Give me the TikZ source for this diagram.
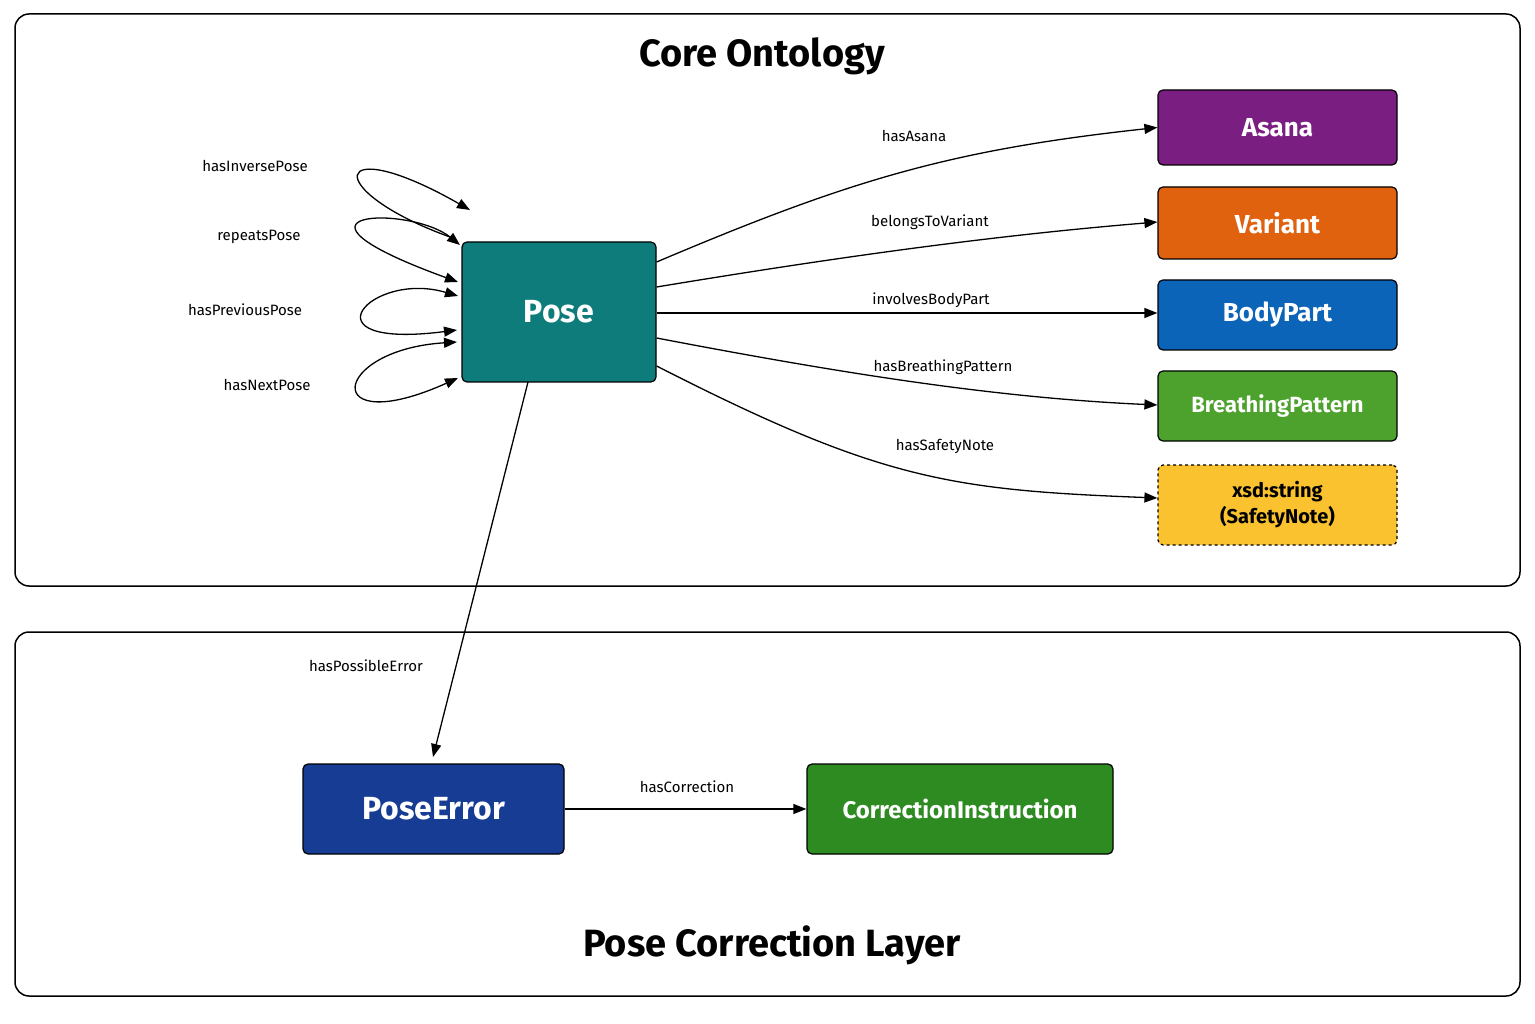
\documentclass[tikz,border=0pt]{standalone}
\usepackage{fontspec}
\setmainfont{Fira Sans}
\usetikzlibrary{arrows.meta}
\definecolor{cteal}{HTML}{0E7C7B}
\definecolor{cpurple}{HTML}{7B1E82}
\definecolor{corange}{HTML}{E0610E}
\definecolor{cblue}{HTML}{0B64B8}
\definecolor{cgreen}{HTML}{4CA22C}
\definecolor{cyellow}{HTML}{F9C22E}
\definecolor{cnavy}{HTML}{163C94}
\definecolor{cdgreen}{HTML}{2E8B22}
\begin{document}
\begin{tikzpicture}[x=1pt,y=-1pt,
  layer/.style={draw=black,line width=1.5pt,rounded corners=14pt},
  cls/.style={draw=black,line width=1.2pt,rounded corners=5pt,text=white,font=\bfseries\fontsize{26}{30}\selectfont,inner sep=0pt},
  edge/.style={line width=1.3pt,-{Triangle[length=13pt,width=10pt]}},
  lbl/.style={font=\fontsize{15}{18}\selectfont,inner sep=1pt}]
\useasboundingbox (0,0) rectangle (1535,1024);
\draw[layer] (15,14) rectangle (1520,586);
\draw[layer] (15,632) rectangle (1520,996);
\node[font=\bfseries\fontsize{38}{44}\selectfont] (t1) at (762,56) {Core Ontology};
\node[font=\bfseries\fontsize{38}{44}\selectfont] (t2) at (772,945) {Pose Correction Layer};
\node[cls,fill=cteal,minimum width=194pt,minimum height=140pt,font=\bfseries\fontsize{32}{36}\selectfont] (pose) at (559,312) {Pose};
\node[cls,fill=cpurple,minimum width=239pt,minimum height=75pt] (asana) at (1277.5,127.5) {Asana};
\node[cls,fill=corange,minimum width=239pt,minimum height=72pt] (variant) at (1277.5,223) {Variant};
\node[cls,fill=cblue,minimum width=239pt,minimum height=70pt] (body) at (1277.5,315) {BodyPart};
\node[cls,fill=cgreen,minimum width=239pt,minimum height=70pt,font=\bfseries\fontsize{22}{26}\selectfont] (breath) at (1277.5,406) {BreathingPattern};
\node[cls,fill=cyellow,dashed,text=black,minimum width=239pt,minimum height=80pt,align=center,font=\bfseries\fontsize{20}{26}\selectfont] (xsd) at (1277.5,505) {xsd:string\\(SafetyNote)};
\node[cls,fill=cnavy,minimum width=261pt,minimum height=90pt,font=\bfseries\fontsize{32}{36}\selectfont] (perr) at (433.5,809) {PoseError};
\node[cls,fill=cdgreen,minimum width=306pt,minimum height=90pt,font=\bfseries\fontsize{24}{28}\selectfont] (corr) at (960,809) {CorrectionInstruction};
\draw[edge] (pose.east |- 0,262) .. controls (850,180) and (950,150) .. (asana.west);
\draw[edge] (pose.east |- 0,287) .. controls (850,255) and (1000,235) .. (variant.west |- 0,222);
\draw[edge] (pose.east |- 0,313) -- (body.west |- 0,313);
\draw[edge] (pose.east |- 0,338) .. controls (850,375) and (1000,398) .. (breath.west |- 0,405);
\draw[edge] (pose.east |- 0,366) .. controls (880,480) and (950,490) .. (xsd.west |- 0,498);
\node[lbl] (l1) at (914,136) {hasAsana};
\node[lbl] (l2) at (930,222) {belongsToVariant};
\node[lbl] (l3) at (931,300) {involvesBodyPart};
\node[lbl] (l4) at (943,367) {hasBreathingPattern};
\node[lbl] (l5) at (945,446) {hasSafetyNote};
\coordinate (pe) at (528,382);
\draw[edge] (pe) -- (433,757);
\node[lbl] (l6) at (366,666) {hasPossibleError};
\draw[edge] (perr.east) -- (corr.west);
\node[lbl] (l7) at (687,787) {hasCorrection};
\coordinate (a1) at (450,237); \coordinate (b1) at (470,210);
\coordinate (a2) at (460,245); \coordinate (b2) at (458,282);
\coordinate (a3) at (458,296); \coordinate (b3) at (457,330);
\coordinate (a4) at (457,342); \coordinate (b4) at (458,378);
\draw[edge] (a1) .. controls (320,190) and (330,130) .. (b1);
\draw[edge,{Triangle[length=13pt,width=10pt]}-{Triangle[length=13pt,width=10pt]}] (a2) .. controls (410,205) and (260,210) .. (b2);
\draw[edge,{Triangle[length=13pt,width=10pt]}-{Triangle[length=13pt,width=10pt]}] (a3) .. controls (370,270) and (300,350) .. (b3);
\draw[edge,{Triangle[length=13pt,width=10pt]}-{Triangle[length=13pt,width=10pt]}] (a4) .. controls (330,350) and (320,440) .. (b4);
\node[lbl] (l8) at (255,166) {hasInversePose};
\node[lbl] (l9) at (259,237) {repeatsPose};
\node[lbl] (l10) at (245,310) {hasPreviousPose};
\node[lbl] (l11) at (267,385) {hasNextPose};
\end{tikzpicture}
\end{document}
